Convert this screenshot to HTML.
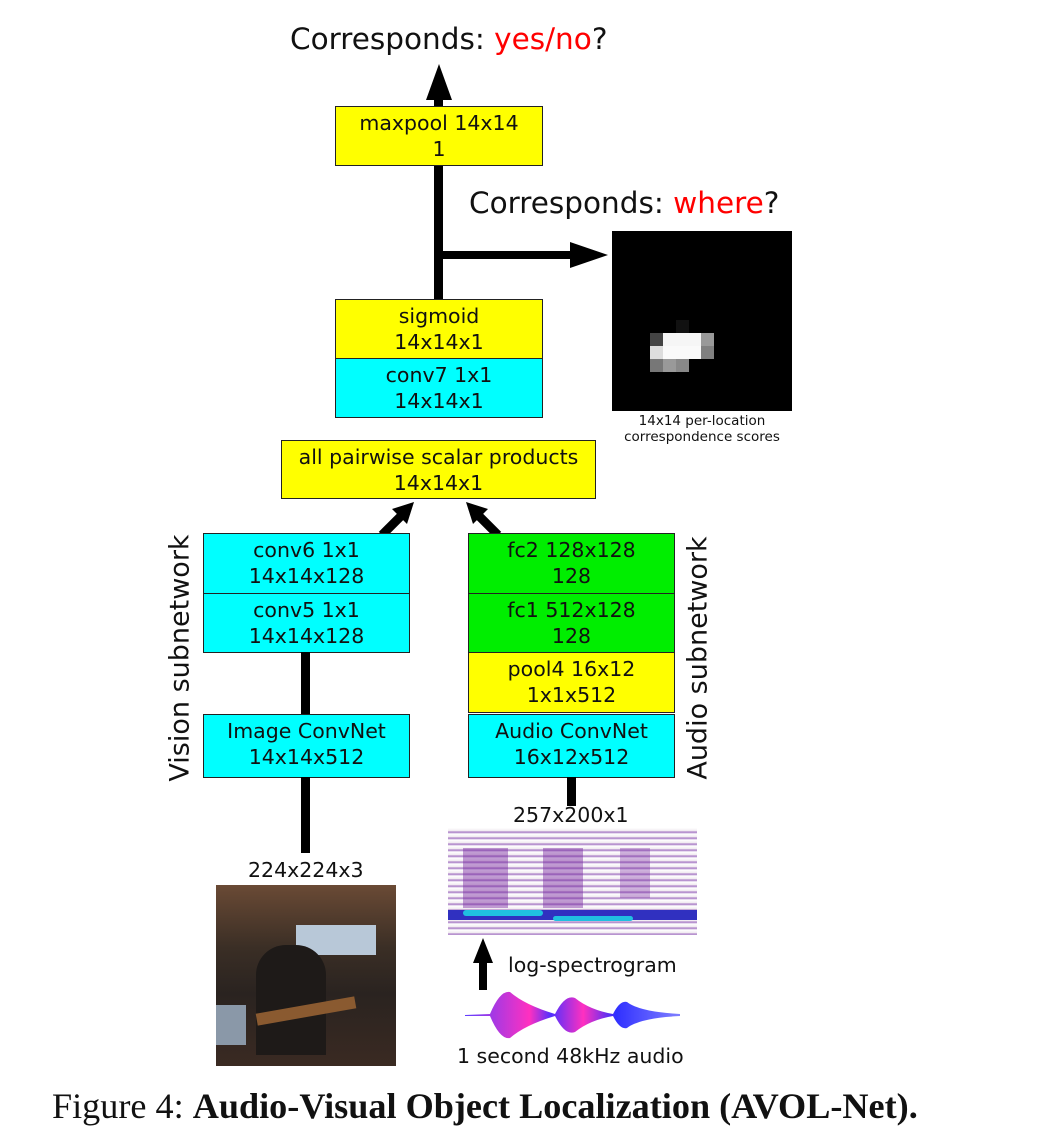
<!DOCTYPE html>
<html><head><style>
body{margin:0;width:1048px;height:1132px;background:#fff;position:relative;overflow:hidden;font-family:"DejaVu Sans","Liberation Sans",sans-serif;}
.b{position:absolute;box-sizing:border-box;border:1.5px solid #222;text-align:center;font-size:20.5px;line-height:26px;padding-top:3px;color:#111;white-space:nowrap}
.y{background:#ffff00}.c{background:#00ffff}.g{background:#00ee00}
.t{position:absolute;white-space:nowrap;color:#111}
.l{position:absolute;background:#000}
.r{color:#ff0000}
</style></head><body>
<div class="t" style="left:290px;top:22px;font-size:29.5px">Corresponds: <span class="r">yes/no</span>?</div>
<div class="t" style="left:469px;top:186px;font-size:29.5px">Corresponds: <span class="r">where</span>?</div>

<div class="l" style="left:434px;top:92px;width:9px;height:210px"></div>
<svg style="position:absolute;left:425px;top:64px" width="28" height="40"><polygon points="14,0 27,36 1,36" fill="#000"/></svg>
<div class="l" style="left:438px;top:251px;width:140px;height:8px"></div>
<svg style="position:absolute;left:570px;top:241px" width="40" height="28"><polygon points="38,14 0,1 0,27" fill="#000"/></svg>

<div class="b y" style="left:335px;top:106px;width:208px;height:60px">maxpool 14x14<br>1</div>
<div class="b y" style="left:335px;top:299px;width:208px;height:60px">sigmoid<br>14x14x1</div>
<div class="b c" style="left:335px;top:358px;width:208px;height:60px">conv7 1x1<br>14x14x1</div>
<div class="b y" style="left:281px;top:440px;width:315px;height:59px">all pairwise scalar products<br>14x14x1</div>

<svg style="position:absolute;left:370px;top:495px" width="140" height="45">
<line x1="12" y1="40" x2="32" y2="20" stroke="#000" stroke-width="9"/>
<polygon points="44,7 22,14 37,29" fill="#000"/>
<line x1="128" y1="40" x2="108" y2="20" stroke="#000" stroke-width="9"/>
<polygon points="96,7 118,14 103,29" fill="#000"/>
</svg>

<div class="b c" style="left:203px;top:533px;width:207px;height:61px">conv6 1x1<br>14x14x128</div>
<div class="b c" style="left:203px;top:593px;width:207px;height:60px">conv5 1x1<br>14x14x128</div>
<div class="b c" style="left:203px;top:714px;width:207px;height:64px">Image ConvNet<br>14x14x512</div>
<div class="l" style="left:301px;top:652px;width:9px;height:62px"></div>
<div class="l" style="left:301px;top:777px;width:9px;height:76px"></div>

<div class="b g" style="left:468px;top:533px;width:207px;height:61px">fc2 128x128<br>128</div>
<div class="b g" style="left:468px;top:593px;width:207px;height:60px">fc1 512x128<br>128</div>
<div class="b y" style="left:468px;top:652px;width:207px;height:61px">pool4 16x12<br>1x1x512</div>
<div class="b c" style="left:468px;top:714px;width:207px;height:64px">Audio ConvNet<br>16x12x512</div>
<div class="l" style="left:567px;top:777px;width:9px;height:29px"></div>

<div class="t" style="left:180px;top:658px;font-size:27px;transform:translate(-50%,-50%) rotate(-90deg)">Vision subnetwork</div>
<div class="t" style="left:698px;top:658px;font-size:27px;transform:translate(-50%,-50%) rotate(-90deg)">Audio subnetwork</div>

<div style="position:absolute;left:612px;top:231px;width:180px;height:180px;background:#000">
<div style="position:absolute;left:38px;top:102px;width:13px;height:13px;background:#444"></div>
<div style="position:absolute;left:51px;top:102px;width:38px;height:13px;background:#f6f6f6"></div>
<div style="position:absolute;left:89px;top:102px;width:13px;height:13px;background:#999"></div>
<div style="position:absolute;left:38px;top:115px;width:13px;height:13px;background:#ddd"></div>
<div style="position:absolute;left:51px;top:115px;width:38px;height:13px;background:#fafafa"></div>
<div style="position:absolute;left:89px;top:115px;width:13px;height:13px;background:#808080"></div>
<div style="position:absolute;left:38px;top:128px;width:13px;height:13px;background:#777"></div>
<div style="position:absolute;left:51px;top:128px;width:13px;height:13px;background:#999"></div>
<div style="position:absolute;left:64px;top:128px;width:13px;height:13px;background:#888"></div>
<div style="position:absolute;left:64px;top:89px;width:13px;height:13px;background:#111"></div>
</div>
<div class="t" style="left:602px;top:413px;width:200px;text-align:center;font-size:13.5px;line-height:16px">14x14 per-location<br>correspondence scores</div>

<div class="t" style="left:248px;top:858px;font-size:20.5px">224x224x3</div>
<div style="position:absolute;left:216px;top:885px;width:180px;height:181px;background:linear-gradient(180deg,#6a4a35 0%,#3a2e25 35%,#2a2320 60%,#3a2a22 100%)">
<div style="position:absolute;left:80px;top:40px;width:80px;height:30px;background:#b8c8d8"></div>
<div style="position:absolute;left:40px;top:60px;width:70px;height:110px;background:#1e1a18;border-radius:30px 30px 0 0"></div>
<div style="position:absolute;left:40px;top:120px;width:100px;height:12px;background:#8a5a30;transform:rotate(-10deg)"></div>
<div style="position:absolute;left:0;top:120px;width:30px;height:40px;background:#8a98a8"></div>
</div>

<div class="t" style="left:513px;top:803px;font-size:20.5px">257x200x1</div>
<div style="position:absolute;left:448px;top:828px;width:249px;height:107px;background:repeating-linear-gradient(180deg,#fff 0,#f0e8f0 3px,#a070c0 4px,#fff 6px)">
<div style="position:absolute;left:15px;top:20px;width:45px;height:60px;background:rgba(120,40,160,0.45)"></div>
<div style="position:absolute;left:95px;top:20px;width:40px;height:60px;background:rgba(120,40,160,0.45)"></div>
<div style="position:absolute;left:172px;top:20px;width:30px;height:50px;background:rgba(120,40,160,0.35)"></div>
<div style="position:absolute;left:0;top:82px;width:249px;height:10px;background:#3030c0"></div>
<div style="position:absolute;left:15px;top:82px;width:80px;height:6px;background:#20c0e0;border-radius:4px"></div>
<div style="position:absolute;left:105px;top:88px;width:80px;height:5px;background:#20c0e0;border-radius:3px"></div>
</div>
<div class="l" style="left:479px;top:960px;width:8px;height:30px"></div>
<svg style="position:absolute;left:472px;top:938px" width="22" height="26"><polygon points="11,0 21,25 1,25" fill="#000"/></svg>
<div class="t" style="left:508px;top:953px;font-size:20.5px">log-spectrogram</div>
<svg style="position:absolute;left:465px;top:990px" width="215" height="50">
<defs><linearGradient id="w" x1="0" x2="1"><stop offset="0" stop-color="#6040ff"/><stop offset="0.3" stop-color="#ff30c0"/><stop offset="0.4" stop-color="#5030ff"/><stop offset="0.55" stop-color="#ff30c0"/><stop offset="0.7" stop-color="#3030ff"/><stop offset="1" stop-color="#8080ff"/></linearGradient></defs>
<path d="M0,25 L25,24 Q35,0 45,2 Q60,15 90,24 Q100,4 110,8 Q125,20 148,24 Q155,10 162,12 Q175,22 215,24 L215,26 Q175,28 162,38 Q155,40 148,26 Q125,30 110,42 Q100,46 90,26 Q60,35 45,48 Q35,50 25,26 L0,26 Z" fill="url(#w)"/>
</svg>
<div class="t" style="left:457px;top:1044px;font-size:20.5px">1 second 48kHz audio</div>

<div class="t" style="left:52px;top:1085px;font-size:36.2px;font-family:'Liberation Serif',serif">Figure 4: <b>Audio-Visual Object Localization (AVOL-Net).</b></div>
</body></html>
